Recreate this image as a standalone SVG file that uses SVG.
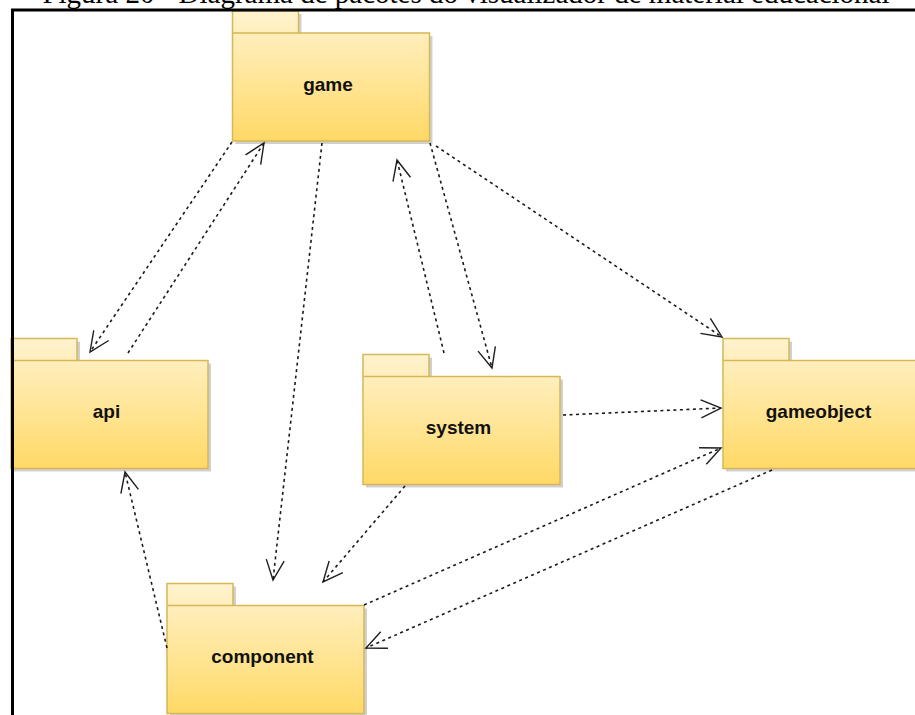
<svg xmlns="http://www.w3.org/2000/svg" xmlns:xlink="http://www.w3.org/1999/xlink" width="915" height="715" viewBox="0 0 915 715">
  <defs>
    <linearGradient id="pkg-fill" x1="0" y1="0" x2="0" y2="1">
      <stop offset="0" stop-color="#fff3cf"/>
      <stop offset="1" stop-color="#ffd966"/>
    </linearGradient>
    <!-- UML package (folder) outline: tab 66x22, body 197x108 -->
    <path id="pkg-shape" d="M0,0 H66 V22 H197 V130 H0 Z"/>
    <marker id="open-arrow" markerUnits="userSpaceOnUse" markerWidth="40" markerHeight="40" refX="0" refY="0" orient="auto" overflow="visible">
      <path d="M-20,-9 L0,0 L-20,9" fill="none" stroke="#1e1e1e" stroke-width="1.4" stroke-dasharray="none"/>
    </marker>
  </defs>
  <style>
    .shadow { fill: #c4c4c4; opacity: 0.8; }
    .pkg { fill: url(#pkg-fill); stroke: #d6b656; stroke-width: 1.5; }
    .tabline { fill: none; stroke: #d6b656; stroke-width: 1.5; }
    .label { font-family: "Liberation Sans", Arial, sans-serif; font-weight: bold; font-size: 19px; fill: #111; text-anchor: middle; }
    .dep { fill: none; stroke: #1a1a1a; stroke-width: 1.6; stroke-dasharray: 3 3.5; marker-end: url(#open-arrow); }
    .frame { fill: none; stroke: #000; stroke-width: 3; }
    .caption { font-family: "Liberation Serif", "Times New Roman", serif; font-size: 29px; fill: #000; text-anchor: middle; }
  </style>

  <rect width="915" height="715" fill="#ffffff"/>

  <text class="caption" x="466" y="3">Figura 20 - Diagrama de pacotes do visualizador de material educacional</text>

  <g id="game" transform="translate(232.5,11)">
    <use xlink:href="#pkg-shape" x="3" y="3" class="shadow"/>
    <use xlink:href="#pkg-shape" class="pkg"/>
    <path class="tabline" d="M0,22 H66"/>
    <text class="label" x="95.5" y="79.5">game</text>
  </g>

  <g id="api" transform="translate(11,338.5)">
    <use xlink:href="#pkg-shape" x="3" y="3" class="shadow"/>
    <use xlink:href="#pkg-shape" class="pkg"/>
    <path class="tabline" d="M0,22 H66"/>
    <text class="label" x="95.5" y="79.5">api</text>
  </g>

  <g id="system" transform="translate(363,354.5)">
    <use xlink:href="#pkg-shape" x="3" y="3" class="shadow"/>
    <use xlink:href="#pkg-shape" class="pkg"/>
    <path class="tabline" d="M0,22 H66"/>
    <text class="label" x="95.5" y="79.5">system</text>
  </g>

  <g id="gameobject" transform="translate(723,338.5)">
    <use xlink:href="#pkg-shape" x="3" y="3" class="shadow"/>
    <use xlink:href="#pkg-shape" class="pkg"/>
    <path class="tabline" d="M0,22 H66"/>
    <text class="label" x="95.5" y="79.5">gameobject</text>
  </g>

  <g id="component" transform="translate(167,583.5)">
    <use xlink:href="#pkg-shape" x="3" y="3" class="shadow"/>
    <use xlink:href="#pkg-shape" class="pkg"/>
    <path class="tabline" d="M0,22 H66"/>
    <text class="label" x="95.5" y="79.5">component</text>
  </g>

  <g id="connectors">
    <path class="dep" d="M232,142 L90,352"/>
    <path class="dep" d="M128,353 L264,143"/>
    <path class="dep" d="M322,143 L273,580"/>
    <path class="dep" d="M444,353 L397,160"/>
    <path class="dep" d="M430,143 L492,368"/>
    <path class="dep" d="M436,146 L722,337"/>
    <path class="dep" d="M563,415 L721,408"/>
    <path class="dep" d="M405,486 L323,582"/>
    <path class="dep" d="M167,648 L125,472"/>
    <path class="dep" d="M364,605 L721,448"/>
    <path class="dep" d="M772,470 L366,648"/>
  </g>

  <path class="frame" d="M12.5,730 V10 H930"/>
</svg>
